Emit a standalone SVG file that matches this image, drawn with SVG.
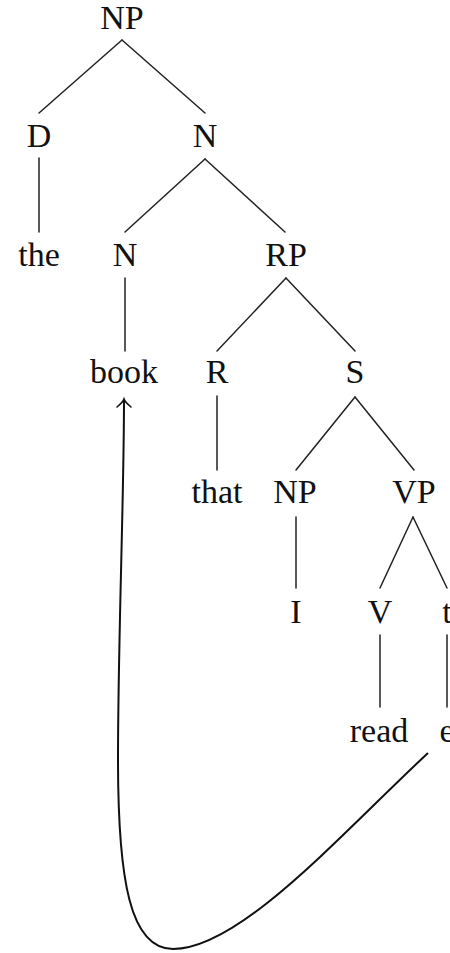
<svg xmlns="http://www.w3.org/2000/svg" width="450" height="953" viewBox="0 0 450 953">
  <style>
    text { font-family: "Liberation Serif", "Times New Roman", serif; font-size: 34px; fill: #111; text-anchor: middle; }
    .edge { stroke: #222; stroke-width: 1.5; fill: none; stroke-linecap: round; }
    .move { stroke: #111; stroke-width: 2; fill: none; }
  </style>
  <defs>
    <marker id="arrowTip" markerUnits="userSpaceOnUse" viewBox="-10 -10 20 20" markerWidth="20" markerHeight="20" refX="0" refY="0" orient="auto">
      <path d="M -8,-7 Q -3,-1 0,0 Q -3,1 -8,7" fill="none" stroke="#111" stroke-width="1.6" stroke-linecap="round"/>
    </marker>
  </defs>
  <rect width="450" height="953" fill="#fff"/>

  <!-- tree branches and movement arrow -->
  <g id="connectors">
    <line class="edge" x1="122" y1="40" x2="39" y2="113"/>
    <line class="edge" x1="122" y1="40" x2="205" y2="113"/>
    <line class="edge" x1="39" y1="158" x2="39" y2="232"/>
    <line class="edge" x1="205" y1="159" x2="125" y2="232"/>
    <line class="edge" x1="205" y1="159" x2="285" y2="232"/>
    <line class="edge" x1="125" y1="278" x2="125" y2="351"/>
    <line class="edge" x1="286" y1="278" x2="217" y2="351"/>
    <line class="edge" x1="286" y1="278" x2="355" y2="351"/>
    <line class="edge" x1="217" y1="396" x2="217" y2="470"/>
    <line class="edge" x1="355" y1="397" x2="296" y2="470"/>
    <line class="edge" x1="355" y1="397" x2="414" y2="470"/>
    <line class="edge" x1="296" y1="517" x2="296" y2="588"/>
    <line class="edge" x1="413" y1="517" x2="380" y2="588"/>
    <line class="edge" x1="413" y1="517" x2="447" y2="588"/>
    <line class="edge" x1="380" y1="635" x2="380" y2="707"/>
    <line class="edge" x1="447" y1="635" x2="447" y2="707"/>
    <path class="move" marker-end="url(#arrowTip)" d="M 428,753 C 340,835 240,949 173,949 C 130,949 118,880 118,760 C 118,640 124,500 124,399"/>
  </g>

  <g id="n-np"><text x="122" y="29">NP</text></g>
  <g id="n-d"><text x="39" y="147">D</text></g>
  <g id="n-n1"><text x="205" y="147">N</text></g>
  <g id="n-the"><text x="39" y="266">the</text></g>
  <g id="n-n2"><text x="125" y="266">N</text></g>
  <g id="n-rp"><text x="286" y="266">RP</text></g>
  <g id="n-book"><text x="124" y="383">book</text></g>
  <g id="n-r"><text x="217" y="383">R</text></g>
  <g id="n-s"><text x="355" y="383">S</text></g>
  <g id="n-that"><text x="217" y="503">that</text></g>
  <g id="n-np2"><text x="295" y="503">NP</text></g>
  <g id="n-vp"><text x="414" y="503">VP</text></g>
  <g id="n-i"><text x="296" y="623">I</text></g>
  <g id="n-v"><text x="380" y="623">V</text></g>
  <g id="n-t"><text x="447" y="623">t</text></g>
  <g id="n-read"><text x="379" y="742">read</text></g>
  <g id="n-e"><text x="447" y="742">e</text></g>
</svg>
